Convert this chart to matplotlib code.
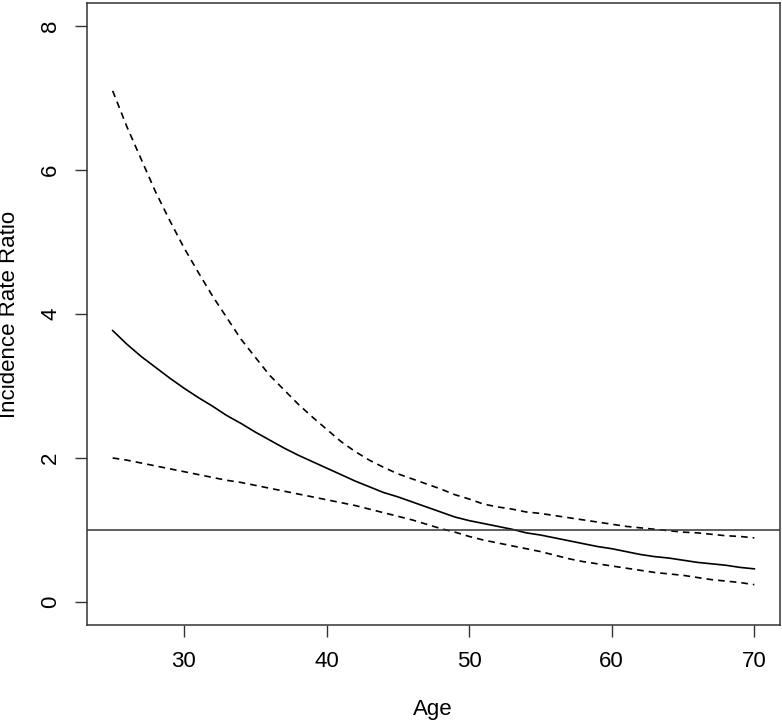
import numpy as np
import matplotlib
matplotlib.use("Agg")
from matplotlib import pyplot as plt

plt.rcParams['font.family'] = ['Liberation Sans', 'DejaVu Sans']

age = list(range(25, 71))

irr = [3.77, 3.58, 3.41, 3.26, 3.11, 2.97, 2.84, 2.72, 2.59, 2.48,
       2.36, 2.25, 2.14, 2.04, 1.95, 1.86, 1.77, 1.68, 1.60, 1.52,
       1.46, 1.39, 1.32, 1.25, 1.18, 1.13, 1.09, 1.05, 1.01, 0.96,
       0.93, 0.89, 0.85, 0.81, 0.77, 0.74, 0.70, 0.66, 0.63, 0.61,
       0.58, 0.55, 0.53, 0.51, 0.48, 0.46]

upper = [7.10, 6.60, 6.15, 5.70, 5.30, 4.92, 4.58, 4.25, 3.95, 3.65,
         3.40, 3.15, 2.95, 2.75, 2.57, 2.40, 2.23, 2.09, 1.97, 1.87,
         1.78, 1.71, 1.64, 1.57, 1.49, 1.43, 1.36, 1.32, 1.29, 1.25,
         1.23, 1.20, 1.17, 1.14, 1.11, 1.08, 1.05, 1.03, 1.01, 0.99,
         0.97, 0.96, 0.94, 0.92, 0.91, 0.89]

lower = [2.00, 1.97, 1.93, 1.89, 1.85, 1.81, 1.77, 1.73, 1.69, 1.66,
         1.62, 1.58, 1.54, 1.50, 1.46, 1.42, 1.38, 1.34, 1.29, 1.24,
         1.19, 1.14, 1.08, 1.02, 0.97, 0.91, 0.86, 0.82, 0.78, 0.74,
         0.70, 0.65, 0.60, 0.56, 0.53, 0.50, 0.47, 0.44, 0.41, 0.39,
         0.37, 0.34, 0.31, 0.29, 0.27, 0.24]

x_ticks = [30, 40, 50, 60, 70]
y_ticks = [0, 2, 4, 6, 8]

fig = plt.figure(figsize=(7.82, 7.22), dpi=100)
ax = fig.add_axes([87 / 782, 1 - 625 / 722, 693 / 782, 622 / 722])

ax.plot(age, irr, color="black", linewidth=1.2)
ax.plot(age, upper, color="black", linewidth=1.2, linestyle=(0, (4, 3)))
ax.plot(age, lower, color="black", linewidth=1.2, linestyle=(0, (4, 3)))
ax.axhline(1, color="#333333", linewidth=1.1)

ax.set_xlim(23.2, 71.8)
ax.set_ylim(-0.32, 8.32)
ax.set_xticks(x_ticks)
ax.set_yticks(y_ticks)
ax.set_yticklabels([str(v) for v in y_ticks], rotation=90, va="center")

for s in ax.spines.values():
    s.set_color("#333333")
    s.set_linewidth(1.1)

ax.tick_params(axis="both", direction="out", length=8.5, width=1.0,
               color="#333333", labelsize=16)
ax.tick_params(axis="x", pad=10)
ax.tick_params(axis="y", pad=10)

# axis titles placed in figure pixels like the R margins
fig.text(433 / 782, 1 - 710 / 722, "Age", fontsize=16,
         ha="center", va="center")
fig.text(10 / 782, 1 - 314 / 722, "Incidence Rate Ratio", fontsize=16,
         ha="center", va="center", rotation=90)

fig.savefig("out.png", dpi=100)
